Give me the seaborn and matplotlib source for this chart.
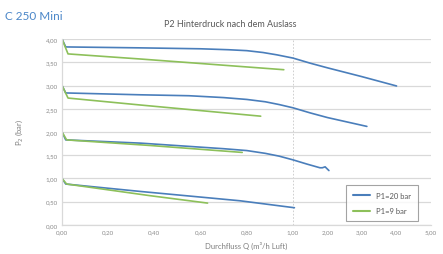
import numpy as np
import pandas as pd
import matplotlib
matplotlib.use('Agg')
import matplotlib.pyplot as plt
import seaborn as sns
from matplotlib.ticker import FuncFormatter

# curves: P1=20 bar (blue) and P1=9 bar (green), four start pressures each
blue_1_x = [0.0, 0.016, 0.34, 0.60, 0.72, 0.80, 0.87, 0.93, 1.0, 1.5, 2.0, 3.0, 4.0]
blue_1_y = [4.0, 3.83, 3.81, 3.79, 3.77, 3.75, 3.71, 3.66, 3.59, 3.48, 3.38, 3.19, 2.99]
green_1_x = [0.0, 0.026, 0.34, 0.96]
green_1_y = [4.0, 3.68, 3.57, 3.34]

blue_2_x = [0.0, 0.016, 0.34, 0.55, 0.70, 0.80, 0.88, 0.94, 1.0, 1.5, 2.0, 3.14]
blue_2_y = [3.0, 2.84, 2.80, 2.78, 2.74, 2.70, 2.65, 2.59, 2.52, 2.41, 2.31, 2.12]
green_2_x = [0.0, 0.026, 0.34, 0.86]
green_2_y = [3.0, 2.73, 2.58, 2.34]

blue_3_x = [0.0, 0.016, 0.34, 0.70, 0.80, 0.88, 0.94, 1.0, 1.4, 1.78, 1.85, 1.93, 2.04]
blue_3_y = [2.0, 1.83, 1.76, 1.64, 1.60, 1.54, 1.48, 1.40, 1.31, 1.23, 1.23, 1.25, 1.17]
green_3_x = [0.0, 0.02, 0.38, 0.78]
green_3_y = [2.0, 1.83, 1.71, 1.56]

blue_4_x = [0.0, 0.016, 0.34, 0.77, 0.99, 1.04]
blue_4_y = [1.0, 0.88, 0.72, 0.52, 0.38, 0.37]
green_4_x = [0.0, 0.02, 0.38, 0.63]
green_4_y = [1.0, 0.88, 0.63, 0.47]

series = ['P1=20 bar', 'P1=9 bar']
x_ticks = [0.0, 0.2, 0.4, 0.6, 0.8, 1.0, 2.0, 3.0, 4.0, 5.0]
y_ticks = [0.0, 0.5, 1.0, 1.5, 2.0, 2.5, 3.0, 3.5, 4.0]

rows = []
curves = [
    ('b1', series[0], blue_1_x, blue_1_y), ('g1', series[1], green_1_x, green_1_y),
    ('b2', series[0], blue_2_x, blue_2_y), ('g2', series[1], green_2_x, green_2_y),
    ('b3', series[0], blue_3_x, blue_3_y), ('g3', series[1], green_3_x, green_3_y),
    ('b4', series[0], blue_4_x, blue_4_y), ('g4', series[1], green_4_x, green_4_y),
]
for cid, s, xs, ys in curves:
    for x, y in zip(xs, ys):
        rows.append({'curve': cid, 'P1': s, 'Q': x, 'P2': y})
df = pd.DataFrame(rows)

sns.set_style('white')
plt.rcParams['font.family'] = ['Lato', 'DejaVu Sans']

fig = plt.figure(figsize=(4.43, 2.55), dpi=100)
ax = fig.add_axes([0.140, 0.114, 0.833, 0.729])

# axis is linear 0..1 and compressed 1..5
r = 34.5 / 231.0
def fwd(x):
    x = np.asarray(x, dtype=float)
    return np.where(x <= 1, x, 1 + (x - 1) * r)
def inv(y):
    y = np.asarray(y, dtype=float)
    return np.where(y <= 1, y, 1 + (y - 1) / r)
ax.set_xscale('function', functions=(fwd, inv))

sns.lineplot(data=df, x='Q', y='P2', hue='P1', units='curve', estimator=None,
             sort=False, palette={series[0]: '#4a7ebb', series[1]: '#8dc05a'},
             linewidth=1.2, ax=ax)

ax.set_xlim(0, 5)
ax.set_ylim(0, 4)
ax.set_xticks(x_ticks)
ax.set_yticks(y_ticks)
fmt = FuncFormatter(lambda v, p: f'{v:.2f}'.replace('.', ','))
ax.xaxis.set_major_formatter(fmt)
ax.yaxis.set_major_formatter(fmt)
ax.xaxis.set_minor_locator(matplotlib.ticker.NullLocator())
ax.tick_params(labelsize=4.5, colors='#8c8c8c', length=0, pad=3)
ax.grid(axis='y', color='#d9d9d9', linewidth=0.9)
ax.axvline(1.0, color='#c8c8c8', linestyle=(0, (2, 2)), linewidth=0.6, zorder=0)
for side in ['top', 'right']:
    ax.spines[side].set_visible(False)
for side in ['left', 'bottom']:
    ax.spines[side].set_color('#d9d9d9')
    ax.spines[side].set_linewidth(0.9)

ax.set_xlabel('Durchfluss Q (m³/h Luft)', fontsize=5.5, color='#7f7f7f', labelpad=5)
ax.set_ylabel('P$_2$ (bar)', fontsize=5.5, color='#7f7f7f', labelpad=15)

leg = ax.legend(loc='upper left', bbox_to_anchor=(0.76, 0.235), fontsize=5.5,
                frameon=True, fancybox=False, handlelength=2.2, borderpad=0.9,
                labelspacing=1.1, title=None)
leg.get_frame().set_edgecolor('#8c8c8c')
leg.get_frame().set_linewidth(0.8)
for t in leg.get_texts():
    t.set_color('#595959')
for h in leg.get_lines():
    h.set_linewidth(1.5)

fig.text(0.012, 0.935, 'C 250 Mini', fontsize=8.5, color='#4a86c8', ha='left', va='center')
fig.text(0.52, 0.905, 'P2 Hinterdruck nach dem Auslass', fontsize=6.5, color='#595959',
         ha='center', va='center')

fig.savefig('out.png', dpi=100)
